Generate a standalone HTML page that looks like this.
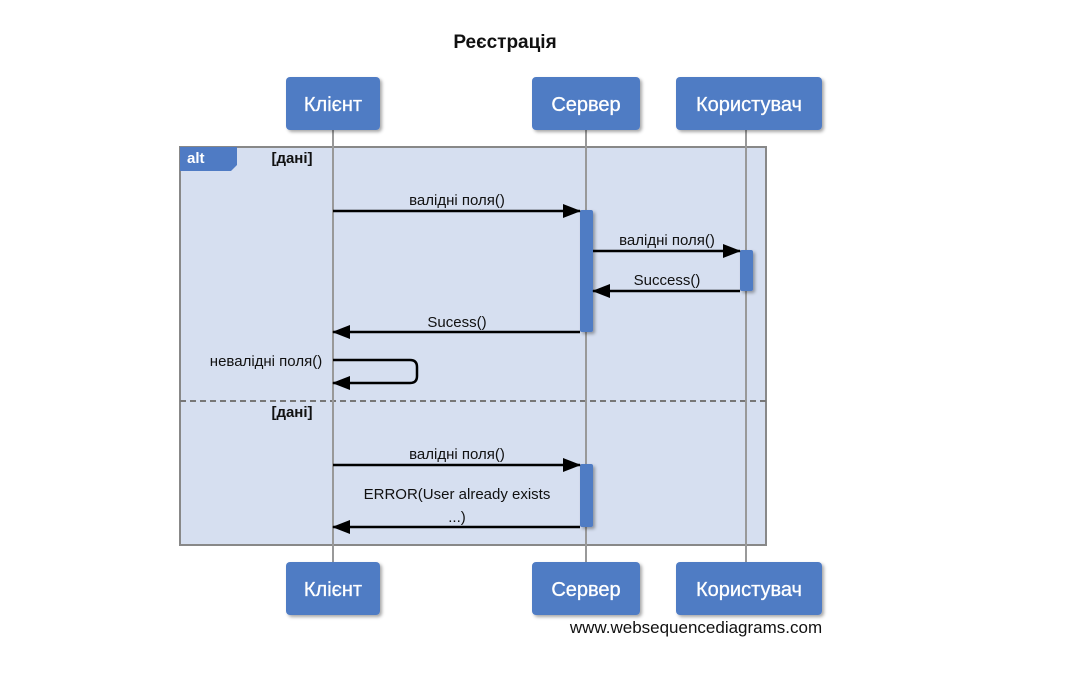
<!DOCTYPE html>
<html><head><meta charset="utf-8"><style>body{margin:0;background:#fff}svg{display:block}</style></head><body>
<svg width="1072" height="677" viewBox="0 0 1072 677" font-family="Liberation Sans, sans-serif">
<defs>
<filter id="sh" x="-20%" y="-20%" width="150%" height="150%"><feDropShadow dx="2" dy="2" stdDeviation="1.5" flood-color="#000" flood-opacity="0.35"/></filter>
<marker id="ar" markerWidth="18" markerHeight="14" refX="17" refY="7" orient="auto" markerUnits="userSpaceOnUse"><path d="M0,0 L18,7 L0,14 z" fill="#000"/></marker>
</defs>
<text x="505" y="48" font-size="19" font-weight="bold" text-anchor="middle" fill="#111">Реєстрація</text>
<rect x="180" y="147" width="586" height="398" fill="#d6dff0" stroke="#888" stroke-width="2"/>
<path d="M180,147 H237 V165 L231,171 H180 Z" fill="#4f7bc4"/>
<text x="187" y="163" font-size="15" font-weight="bold" fill="#fff">alt</text>
<text x="292" y="163" font-size="15" font-weight="bold" text-anchor="middle" fill="#111">[дані]</text>
<line x1="180" y1="401" x2="766" y2="401" stroke="#777" stroke-width="2" stroke-dasharray="6,4"/>
<text x="292" y="417" font-size="15" font-weight="bold" text-anchor="middle" fill="#111">[дані]</text>
<g stroke="#999" stroke-width="2">
<line x1="333" y1="130" x2="333" y2="562"/><line x1="586" y1="130" x2="586" y2="562"/><line x1="746" y1="130" x2="746" y2="562"/>
</g>
<g fill="#4f7bc4" filter="url(#sh)">
<rect x="580" y="210" width="13" height="122" rx="2"/><rect x="740" y="250" width="13" height="41" rx="2"/><rect x="580" y="464" width="13" height="63" rx="2"/>
</g>
<g stroke="#000" stroke-width="2.5" fill="none" marker-end="url(#ar)">
<line x1="333" y1="211" x2="580" y2="211"/>
<line x1="593" y1="251" x2="740" y2="251"/>
<line x1="740" y1="291" x2="593" y2="291"/>
<line x1="580" y1="332" x2="333" y2="332"/>
<path d="M333,360 H410 Q417,360 417,367 V376 Q417,383 410,383 H333"/>
<line x1="333" y1="465" x2="580" y2="465"/>
<line x1="580" y1="527" x2="333" y2="527"/>
</g>
<g font-size="15" fill="#111" text-anchor="middle">
<text x="457" y="205">валідні поля()</text>
<text x="667" y="245">валідні поля()</text>
<text x="667" y="285">Success()</text>
<text x="457" y="327">Sucess()</text>
<text x="266" y="366">невалідні поля()</text>
<text x="457" y="459">валідні поля()</text>
<text x="457" y="499">ERROR(User already exists</text>
<text x="457" y="522">...)</text>
</g>
<g fill="#4f7bc4" filter="url(#sh)">
<rect x="286" y="77" width="94" height="53" rx="4"/><rect x="532" y="77" width="108" height="53" rx="4"/><rect x="676" y="77" width="146" height="53" rx="4"/>
<rect x="286" y="562" width="94" height="53" rx="4"/><rect x="532" y="562" width="108" height="53" rx="4"/><rect x="676" y="562" width="146" height="53" rx="4"/>
</g>
<g font-size="20" fill="#fff" text-anchor="middle" stroke="#fff" stroke-width="0.3">
<text x="333" y="111">Клієнт</text><text x="586" y="111">Сервер</text><text x="749" y="111">Користувач</text>
<text x="333" y="596">Клієнт</text><text x="586" y="596">Сервер</text><text x="749" y="596">Користувач</text>
</g>
<text x="696" y="633" font-size="17" text-anchor="middle" fill="#111">www.websequencediagrams.com</text>
</svg>
</body></html>
